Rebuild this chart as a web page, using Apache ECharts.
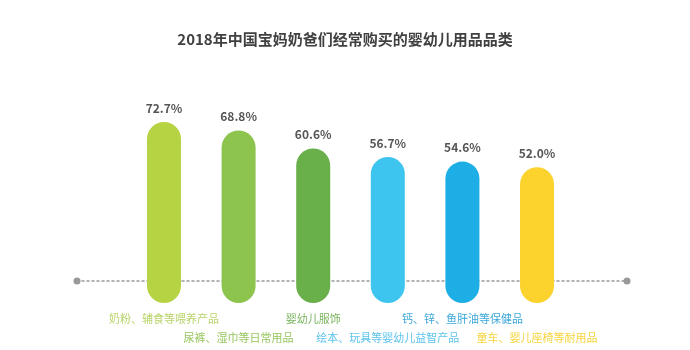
<!DOCTYPE html>
<html>
<head>
<meta charset="utf-8">
<script src="https://cdn.jsdelivr.net/npm/echarts@6/dist/echarts.min.js"></script>
<style>
  html, body { margin: 0; padding: 0; background: #fff; }
  #chart { width: 690px; height: 350px; }
</style>
</head>
<body>
<div id="chart"></div>
<script>
// 数据
const categories = ['奶粉、辅食等喂养产品', '尿裤、湿巾等日常用品', '婴幼儿服饰', '绘本、玩具等婴幼儿益智产品', '钙、锌、鱼肝油等保健品', '童车、婴儿座椅等耐用品']
const values = [72.7, 68.8, 60.6, 56.7, 54.6, 52.0]
const barColors = ['#b6d343', '#8dc44e', '#69b04b', '#3ec5ef', '#1daee5', '#fcd22d']
const labelColors = ['#b9d46a', '#97c65e', '#78b45c', '#5cc3ec', '#3ba7da', '#f6d43f']

const FONT = '"Noto Sans CJK SC", "Noto Sans", sans-serif'
const Y_MIN = -10

const chart = echarts.init(document.getElementById('chart'))

// 类目标签颜色，奇数项下移一行
const rich = {}
categories.forEach((c, i) => {
  rich['c' + i] = {
    color: labelColors[i],
    fontSize: 11,
    fontFamily: FONT,
    padding: i % 2 ? [19, 0, 0, 0] : [0, 0, 0, 0]
  }
})

const option = {
  animation: false,
  title: {
    text: '2018年中国宝妈奶爸们经常购买的婴幼儿用品品类',
    left: 'center',
    top: 27,
    textStyle: { fontSize: 15, fontWeight: 'bold', color: '#404040', fontFamily: FONT }
  },
  grid: { left: 77, right: 63, top: 106, bottom: 47, outerBoundsMode: 'none' },
  xAxis: {
    type: 'value',
    min: -1.166,
    max: 6.206,
    splitLine: { show: false },
    axisTick: { show: false },
    axisLine: {
      show: true,
      onZero: true,
      symbol: ['circle', 'circle'],
      symbolSize: [7, 7],
      lineStyle: { color: '#999', width: 1.5, type: [2, 3] }
    },
    axisLabel: {
      customValues: categories.map((c, i) => i),
      margin: 10,
      formatter: v => '{c' + v + '|' + categories[v] + '}',
      rich: rich
    }
  },
  yAxis: {
    type: 'value',
    min: Y_MIN,
    max: 80,
    show: false
  },
  series: [{
    type: 'custom',
    data: values.map((v, i) => [i, v]),
    renderItem: (params, api) => {
      const i = api.value(0)
      const v = api.value(1)
      const top = api.coord([i, v])
      const bottom = api.coord([i, Y_MIN])
      const w = 34
      return {
        type: 'group',
        children: [{
          type: 'rect',
          shape: { x: top[0] - w / 2, y: top[1], width: w, height: bottom[1] - top[1], r: w / 2 },
          style: { fill: barColors[i] }
        }, {
          type: 'text',
          x: top[0],
          y: top[1] - 8,
          style: {
            text: v.toFixed(1) + '%',
            align: 'center',
            verticalAlign: 'bottom',
            fill: '#555',
            font: 'bold 12px ' + FONT
          }
        }]
      }
    }
  }]
}

chart.setOption(option)
</script>
</body>
</html>
